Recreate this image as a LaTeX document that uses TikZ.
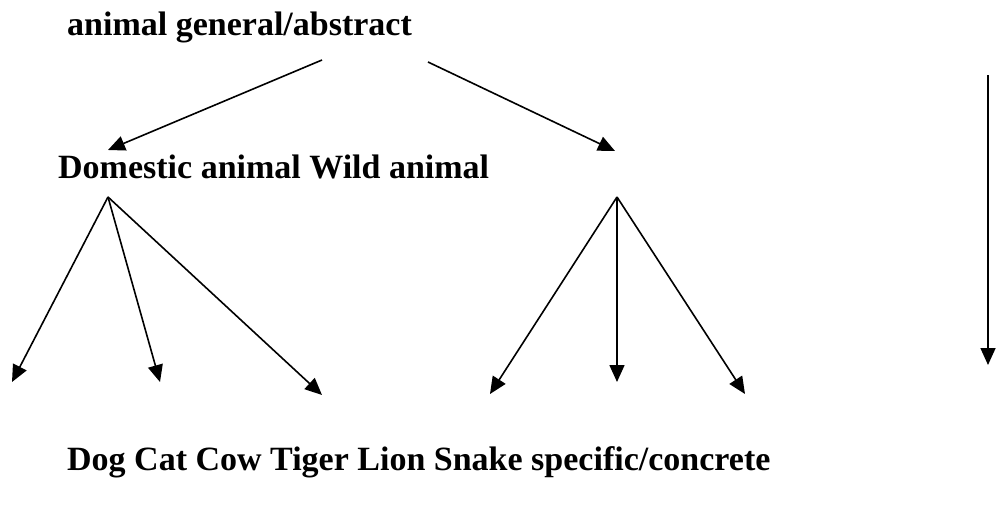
\documentclass[tikz,border=0pt]{standalone}
\usepackage{fontspec}
\setmainfont{Liberation Serif}
\usetikzlibrary{arrows.meta}

\tikzset{
  lbl/.style={anchor=west,inner sep=0pt,font=\fontsize{34}{40}\selectfont\bfseries},
  arr/.style={line width=1.6pt,-{Triangle[length=17pt,width=15pt]}}
}

\begin{document}
\begin{tikzpicture}[x=1pt,y=-1pt]

  % page frame
  \useasboundingbox (0,0) rectangle (1001,506);

  % texts
  \node[lbl] (general) at (67,27) {animal general/abstract};
  \node[lbl] (middle) at (58,167) {Domestic animal Wild animal};
  \node[lbl] (leaves) at (67,462) {Dog Cat Cow Tiger Lion Snake specific/concrete};

  % top arrows
  \coordinate (g1) at (322,60);
  \coordinate (g2) at (428,62);
  \coordinate (dom) at (108,150);
  \coordinate (wild) at (615,151);
  \draw[arr] (g1) -- (dom);
  \draw[arr] (g2) -- (wild);

  % left fan
  \coordinate (lf) at (108,197);
  \coordinate (dog) at (12,382);
  \coordinate (cat) at (160,382);
  \coordinate (cow) at (322,395);
  \foreach \t in {dog,cat,cow} \draw[arr] (lf) -- (\t);

  % right fan
  \coordinate (rf) at (617,197);
  \coordinate (tiger) at (490,394);
  \coordinate (lion) at (617,382);
  \coordinate (snake) at (745,394);
  \foreach \t in {tiger,lion,snake} \draw[arr] (rf) -- (\t);

  % general to specific
  \coordinate (top) at (988,75);
  \coordinate (bot) at (988,365);
  \draw[arr] (top) -- (bot);

\end{tikzpicture}
\end{document}
